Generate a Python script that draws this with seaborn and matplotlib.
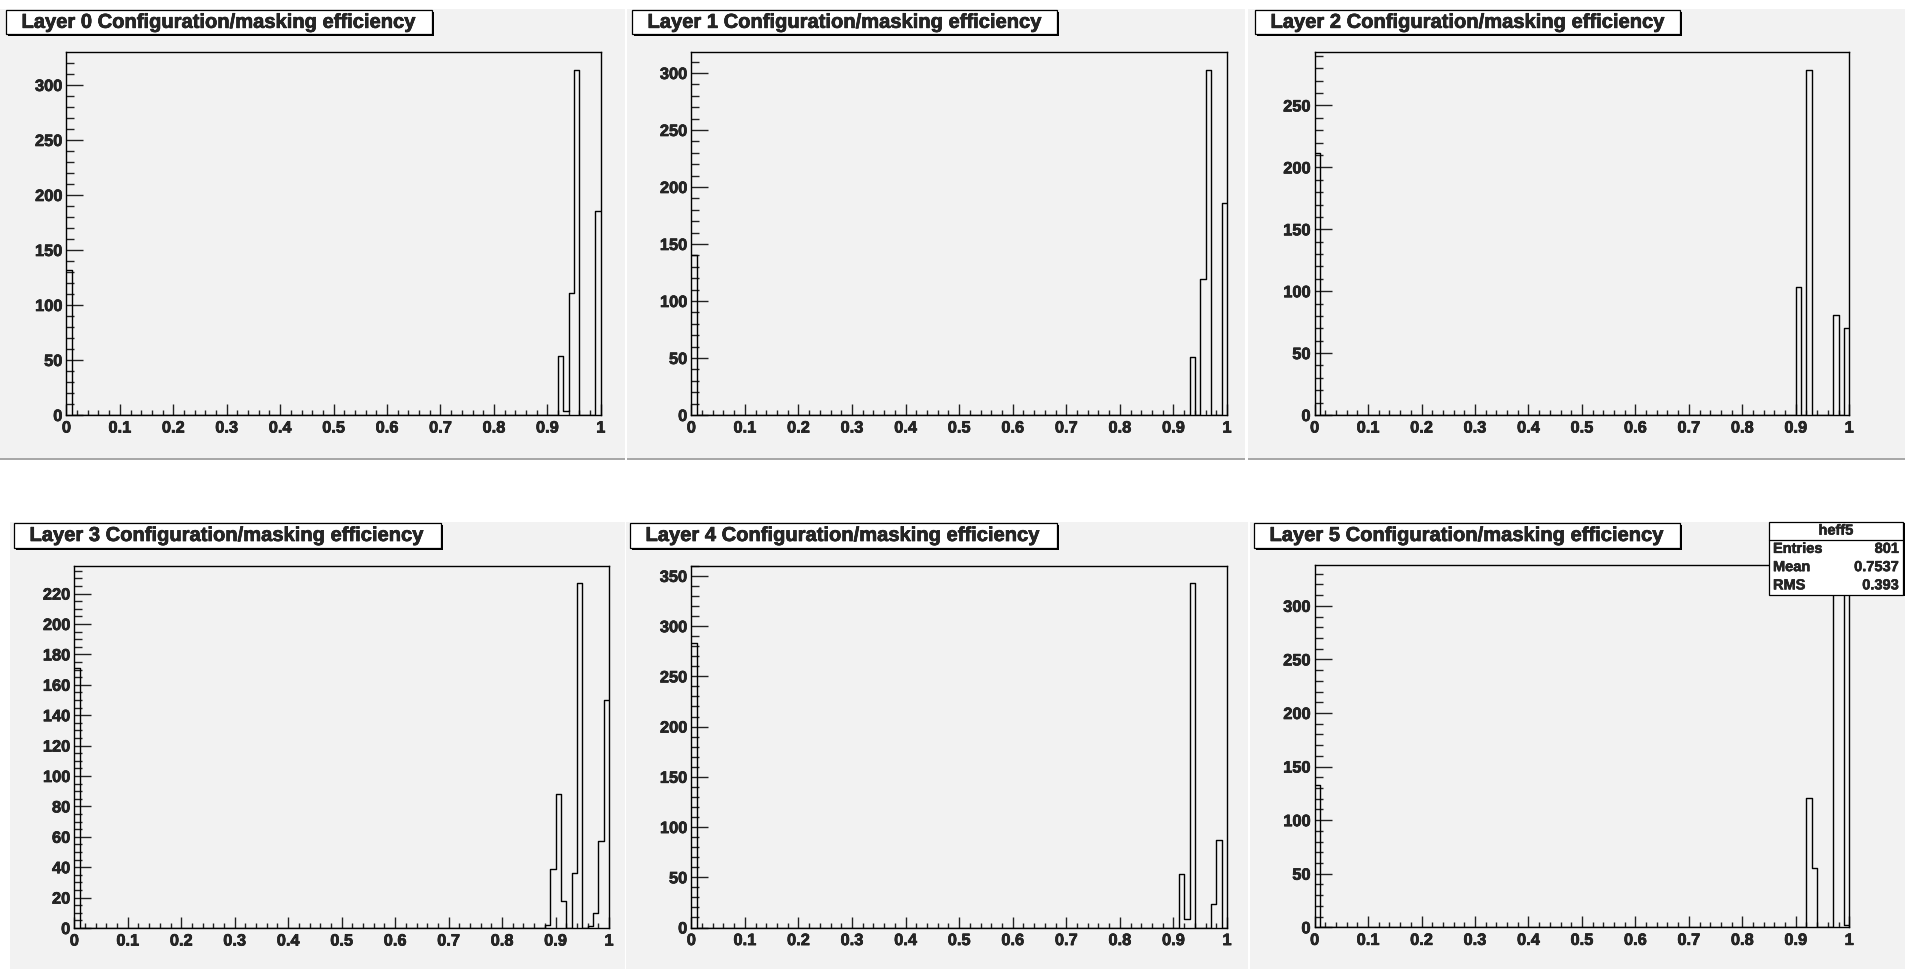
import numpy as np
import pandas as pd
import matplotlib
matplotlib.use("Agg")
import matplotlib.pyplot as plt
import matplotlib.patheffects as pe
from matplotlib.patches import Rectangle
from matplotlib.lines import Line2D
from matplotlib.ticker import MultipleLocator, FuncFormatter
import seaborn as sns

# ---------------------------------------------------------------- data
N_BINS = 100
bin_edges = np.linspace(0.0, 1.0, N_BINS + 1)
bin_centers = 0.5 * (bin_edges[:-1] + bin_edges[1:])

layer_titles = [f"Layer {i} Configuration/masking efficiency" for i in range(6)]

# non-empty bins (index of 0.01-wide bin) and their contents, per layer
layer0_bins = [0, 92, 93, 94, 95, 99]
layer0_counts = [132, 54, 4, 111, 314, 185]

layer1_bins = [0, 93, 95, 96, 99]
layer1_counts = [140, 51, 119, 303, 186]

layer2_bins = [0, 90, 92, 97, 99]
layer2_counts = [212, 103, 279, 81, 70]

layer3_bins = [0, 88, 89, 90, 91, 93, 94, 96, 97, 98, 99]
layer3_counts = [171, 2, 39, 88, 18, 36, 227, 1, 10, 57, 150]

layer4_bins = [0, 91, 92, 93, 97, 98]
layer4_counts = [283, 53, 8, 343, 23, 87]

layer5_bins = [0, 92, 93, 97, 98, 99]
layer5_counts = [133, 121, 55, 322, 316, 2]

y_major_steps = [50, 50, 50, 20, 50, 50]
y_minor_steps = [10, 10, 10, 5, 10, 10]

stats_name = "heff5"
stats_labels = ["Entries", "Mean", "RMS"]
stats_values = ["801", "0.7537", "0.393"]

layer_bins = [layer0_bins, layer1_bins, layer2_bins, layer3_bins, layer4_bins, layer5_bins]
layer_counts = [layer0_counts, layer1_counts, layer2_counts, layer3_counts, layer4_counts, layer5_counts]

# ---------------------------------------------------------------- layout (pixels from top-left)
W, H = 1905, 970
PAD_GRAY = "#f2f2f2"

pads_px = [(0, 10, 625, 461), (627, 10, 1245, 461), (1248, 10, 1905, 461),
           (10, 523, 624.5, 970), (626, 523, 1247.5, 970), (1249.5, 523, 1905, 970)]
axes_px = [(66.4, 53.3, 600.8, 416), (691.3, 53.3, 1227, 416), (1314.6, 53.3, 1849.2, 416),
           (74.3, 566.7, 609, 929), (691.3, 566.7, 1227, 928.5), (1314.6, 566, 1849.2, 928.3)]
titles_px = [(6, 10.7, 432.3, 35), (632, 10.7, 1057, 35), (1255, 10.7, 1680, 35),
             (14, 523.5, 441, 548.5), (630, 523.5, 1057, 548.5), (1254, 523.5, 1680, 548.5)]
stats_px = (1769, 522.5, 1903, 595.5)

sns.set_style("ticks")
plt.rcParams["font.family"] = ["Liberation Sans", "DejaVu Sans"]
plt.rcParams["font.weight"] = "bold"

# a thin outline in the text colour gives the heavy look of the labels
heavy = [pe.withStroke(linewidth=0.45, foreground="black")]

fig = plt.figure(figsize=(W / 100, H / 100), dpi=100)
fig.patch.set_facecolor("white")


def frac_rect(x0, y0, x1, y1):
    return [x0 / W, 1 - y1 / H, (x1 - x0) / W, (y1 - y0) / H]


def add_box(x0, y0, x1, y1, shadow=2.0, zorder=5):
    # white box with a dark drop shadow on the right and bottom
    fx, fy, fw, fh = frac_rect(x0 + shadow, y0 + shadow, x1 + shadow, y1 + shadow)
    fig.add_artist(Rectangle((fx, fy), fw, fh, transform=fig.transFigure,
                             facecolor="black", edgecolor="none", zorder=zorder))
    fx, fy, fw, fh = frac_rect(x0, y0, x1, y1)
    fig.add_artist(Rectangle((fx, fy), fw, fh, transform=fig.transFigure,
                             facecolor="white", edgecolor="black", linewidth=0.9, zorder=zorder + 0.1))


# pad backgrounds
for i, (x0, y0, x1, y1) in enumerate(pads_px):
    fx, fy, fw, fh = frac_rect(x0, y0, x1, y1)
    fig.add_artist(Rectangle((fx, fy), fw, fh, transform=fig.transFigure,
                             facecolor=PAD_GRAY, edgecolor="none", zorder=0))
    if i < 3:
        fx, fy, fw, fh = frac_rect(x0, y1 - 2, x1, y1)
        fig.add_artist(Rectangle((fx, fy), fw, fh, transform=fig.transFigure,
                                 facecolor="#a8a8a8", edgecolor="none", zorder=0.5))

fmt_x = FuncFormatter(lambda v, _: f"{v:g}")
fmt_y = FuncFormatter(lambda v, _: f"{v:g}")

for i in range(6):
    counts = np.zeros(N_BINS)
    counts[layer_bins[i]] = layer_counts[i]
    hist_df = pd.DataFrame({"efficiency": bin_centers, "n": counts})

    ax = fig.add_axes(frac_rect(*axes_px[i]))
    ax.set_facecolor(PAD_GRAY)
    sns.histplot(data=hist_df, x="efficiency", weights="n", bins=list(bin_edges),
                 element="step", fill=False, color="black", linewidth=1.0, ax=ax)
    ax.set_xlim(0, 1)
    ax.set_ylim(0, 1.05 * counts.max())
    ax.set_xlabel("")
    ax.set_ylabel("")

    for sp in ax.spines.values():
        sp.set_visible(True)
        sp.set_color("black")
        sp.set_linewidth(1.0)

    ax.xaxis.set_major_locator(MultipleLocator(0.1))
    ax.xaxis.set_minor_locator(MultipleLocator(0.02))
    ax.yaxis.set_major_locator(MultipleLocator(y_major_steps[i]))
    ax.yaxis.set_minor_locator(MultipleLocator(y_minor_steps[i]))
    ax.xaxis.set_major_formatter(fmt_x)
    ax.yaxis.set_major_formatter(fmt_y)

    ax.tick_params(axis="both", which="both", direction="in", top=False, right=False,
                   width=1.0, color="#222222", labelsize=11.8)
    ax.tick_params(axis="x", which="major", length=8, pad=4)
    ax.tick_params(axis="x", which="minor", length=3.8)
    ax.tick_params(axis="y", which="major", length=12, pad=3)
    ax.tick_params(axis="y", which="minor", length=6)
    for lab in ax.get_xticklabels() + ax.get_yticklabels():
        lab.set_fontweight("bold")
        lab.set_path_effects(heavy)

    # title box
    x0, y0, x1, y1 = titles_px[i]
    add_box(x0, y0, x1, y1)
    fig.text((x0 + 15.5) / W, 1 - (0.5 * (y0 + y1) + 0.5) / H, layer_titles[i],
             fontsize=14.5, fontweight="bold", ha="left", va="center", zorder=7,
             path_effects=heavy)

# statistics box
sx0, sy0, sx1, sy1 = stats_px
add_box(sx0, sy0, sx1, sy1, shadow=1.5, zorder=8)
row_h = (sy1 - sy0) / 4
fig.add_artist(Line2D([sx0 / W, sx1 / W], [1 - (sy0 + row_h) / H] * 2,
                      transform=fig.transFigure, color="black", linewidth=0.9, zorder=9))
stats_fx = [pe.withStroke(linewidth=0.35, foreground="black")]
fig.text(0.5 * (sx0 + sx1) / W, 1 - (sy0 + 0.5 * row_h) / H, stats_name,
         fontsize=10.5, fontweight="bold", ha="center", va="center", zorder=10,
         path_effects=stats_fx)
for k, (lab, val) in enumerate(zip(stats_labels, stats_values)):
    yc = 1 - (sy0 + (k + 1.5) * row_h) / H
    fig.text((sx0 + 4) / W, yc, lab, fontsize=10.5, fontweight="bold",
             ha="left", va="center", zorder=10, path_effects=stats_fx)
    fig.text((sx1 - 4) / W, yc, val, fontsize=10.5, fontweight="bold",
             ha="right", va="center", zorder=10, path_effects=stats_fx)

fig.savefig("out.png", dpi=100, facecolor="white")
